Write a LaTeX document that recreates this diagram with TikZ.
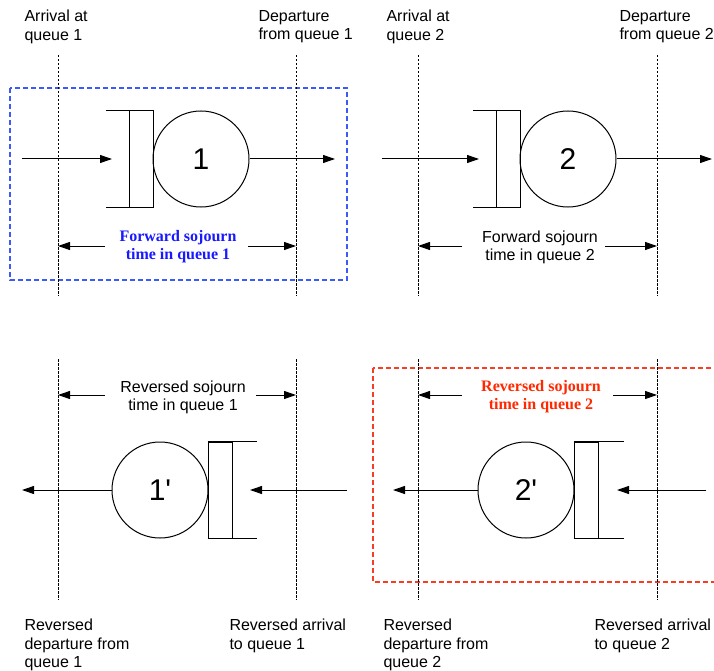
\documentclass[tikz,border=0pt]{standalone}
\usepackage{fontspec}
\setmainfont{Liberation Sans}
\newfontfamily\serifb{Liberation Serif}
\newfontfamily\numfont{Liberation Sans}[Ligatures=TeXOff]
\usetikzlibrary{arrows.meta}
\definecolor{boxblue}{RGB}{60,90,245}
\definecolor{txtblue}{RGB}{25,25,255}
\definecolor{boxred}{RGB}{250,60,35}
\definecolor{txtred}{RGB}{255,40,0}
\begin{document}
\begin{tikzpicture}[x=1pt,y=-1pt,line width=1pt,
 arr/.style={-{Triangle[length=12pt,width=8pt]}},
 guide/.style={line width=0.7pt,dash pattern=on 2.5pt off 1.5pt},
 srv/.style={draw,circle,minimum size=96pt,inner sep=0pt,font=\numfont\fontsize{30}{36}\selectfont},
 slot/.style={draw,minimum width=24pt,minimum height=96pt,inner sep=0pt},
 lbl/.style={anchor=north west,align=left,inner sep=0pt,font=\fontsize{16}{18.5}\selectfont},
 soj/.style={align=center,inner sep=0pt,font=\fontsize{16}{18}\selectfont},
 sojb/.style={align=center,inner sep=0pt,font=\serifb\bfseries\fontsize{16}{18}\selectfont},
 hl/.style={line width=1.1pt,dash pattern=on 5pt off 3pt}]
\clip (0,0) rectangle (714,671);

% highlight boxes
\draw[hl,boxblue] (10,88) rectangle (347,280);
\draw[hl,boxred] (373,368) rectangle (740,582);

% guide lines
\foreach \gx/\gn in {58/a,296/b,418/c,657/d}{
  \coordinate (t\gn) at (\gx,55);
  \coordinate (m\gn) at (\gx,296);
  \coordinate (u\gn) at (\gx,359);
  \coordinate (w\gn) at (\gx,600);
  \draw[guide] (t\gn) -- (m\gn);
  \draw[guide] (u\gn) -- (w\gn);
}

% ---------- queue 1 ----------
\node[slot] (b1) at (141,159) {};
\draw (b1.north east) -- ++(-48,0);
\draw (b1.south east) -- ++(-48,0);
\node[srv] (q1) at (201,159) {1};
\coordinate (i1s) at (22,159);
\coordinate (i1e) at (112,159);
\coordinate (o1) at (335,159);
\draw[arr] (i1s) -- (i1e);
\draw[arr] (q1.east) -- (o1);
\coordinate (s1l) at (105,246);
\coordinate (s1la) at (58,246);
\coordinate (s1r) at (248,246);
\coordinate (s1ra) at (296,246);
\draw[arr] (s1l) -- (s1la);
\draw[arr] (s1r) -- (s1ra);
\node[sojb,text=txtblue] (t1) at (178,247) {Forward sojourn\\time in queue 1};
\node[lbl] (l1a) at (24,9.5) {Arrival at\\queue 1};
\node[lbl] (l1d) at (258,9.5) {Departure\\from queue 1};

% ---------- queue 2 ----------
\node[slot] (b2) at (508,159) {};
\draw (b2.north east) -- ++(-48,0);
\draw (b2.south east) -- ++(-48,0);
\node[srv] (q2) at (568,159) {2};
\coordinate (i2s) at (382,159);
\coordinate (i2e) at (479,159);
\coordinate (o2) at (712,159);
\draw[arr] (i2s) -- (i2e);
\draw[arr] (q2.east) -- (o2);
\coordinate (s2l) at (462,246);
\coordinate (s2la) at (418,246);
\coordinate (s2r) at (605,246);
\coordinate (s2ra) at (657,246);
\draw[arr] (s2l) -- (s2la);
\draw[arr] (s2r) -- (s2ra);
\node[soj] (t2) at (540,247) {Forward sojourn\\time in queue 2};
\node[lbl] (l2a) at (386,9.5) {Arrival at\\queue 2};
\node[lbl] (l2d) at (619,9.5) {Departure\\from queue 2};

% ---------- queue 1' ----------
\node[srv] (q3) at (160,490) {1'};
\node[slot] (b3) at (220,490) {};
\draw (b3.north west) -- ++(49,0);
\draw (b3.south west) -- ++(49,0);
\coordinate (o3) at (22,490);
\coordinate (i3s) at (347,490);
\coordinate (i3e) at (250,490);
\draw[arr] (q3.west) -- (o3);
\draw[arr] (i3s) -- (i3e);
\coordinate (s3l) at (105,395);
\coordinate (s3la) at (58,395);
\coordinate (s3r) at (256,395);
\coordinate (s3ra) at (296,395);
\draw[arr] (s3l) -- (s3la);
\draw[arr] (s3r) -- (s3ra);
\node[soj] (t3) at (183,397) {Reversed sojourn\\time in queue 1};
\node[lbl] (l3d) at (24,618.5) {Reversed\\departure from\\queue 1};
\node[lbl] (l3a) at (229,618.5) {Reversed arrival\\to queue 1};

% ---------- queue 2' ----------
\node[srv] (q4) at (526,490) {2'};
\node[slot] (b4) at (586,490) {};
\draw (b4.north west) -- ++(50,0);
\draw (b4.south west) -- ++(50,0);
\coordinate (o4) at (393,490);
\coordinate (i4s) at (706,490);
\coordinate (i4e) at (617,490);
\draw[arr] (q4.west) -- (o4);
\draw[arr] (i4s) -- (i4e);
\coordinate (s4l) at (462,395);
\coordinate (s4la) at (418,395);
\coordinate (s4r) at (613,395);
\coordinate (s4ra) at (657,395);
\draw[arr] (s4l) -- (s4la);
\draw[arr] (s4r) -- (s4ra);
\node[sojb,text=txtred] (t4) at (541,397) {Reversed sojourn\\time in queue 2};
\node[lbl] (l4d) at (383,618.5) {Reversed\\departure from\\queue 2};
\node[lbl] (l4a) at (594,618.5) {Reversed arrival\\to queue 2};
\end{tikzpicture}
\end{document}
